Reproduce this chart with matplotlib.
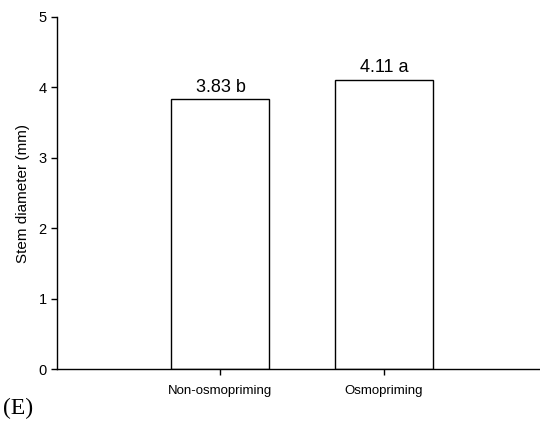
import matplotlib.pyplot as plt

groups = ['Non-osmopriming', 'Osmopriming']
stem_diameter = [3.83, 4.11]
letters = ['b', 'a']

plt.rcParams['font.family'] = ['Liberation Sans', 'DejaVu Sans']

fig = plt.figure(figsize=(5.4, 4.23), dpi=100)
ax = fig.add_axes([0.1056, 0.1265, 0.908, 0.834])

x = range(len(groups))
bars = ax.bar(x, stem_diameter, width=0.6, color='white', edgecolor='black', linewidth=1)

# valeur + lettre au-dessus de chaque barre
for b, v, l in zip(bars, stem_diameter, letters):
    ax.text(b.get_x() + b.get_width() / 2, v + 0.05, '%.2f %s' % (v, l),
            ha='center', va='bottom', fontsize=13)

ax.set_xlim(-1, 2)
ax.set_ylim(0, 5)
ax.set_xticks(list(x))
ax.set_xticklabels(groups, fontsize=9.5)
ax.set_yticks(range(6))
ax.tick_params(axis='y', labelsize=10.5)
ax.tick_params(direction='out', length=4, width=1)
ax.tick_params(axis='x', pad=7)
ax.set_ylabel('Stem diameter (mm)', fontsize=11, labelpad=6)

for s in ['top', 'right']:
    ax.spines[s].set_visible(False)
for s in ['left', 'bottom']:
    ax.spines[s].set_linewidth(1)

fig.text(0.005, 0.022, '(E)', family='Liberation Serif', fontsize=17)

fig.savefig('out.png', dpi=100)
